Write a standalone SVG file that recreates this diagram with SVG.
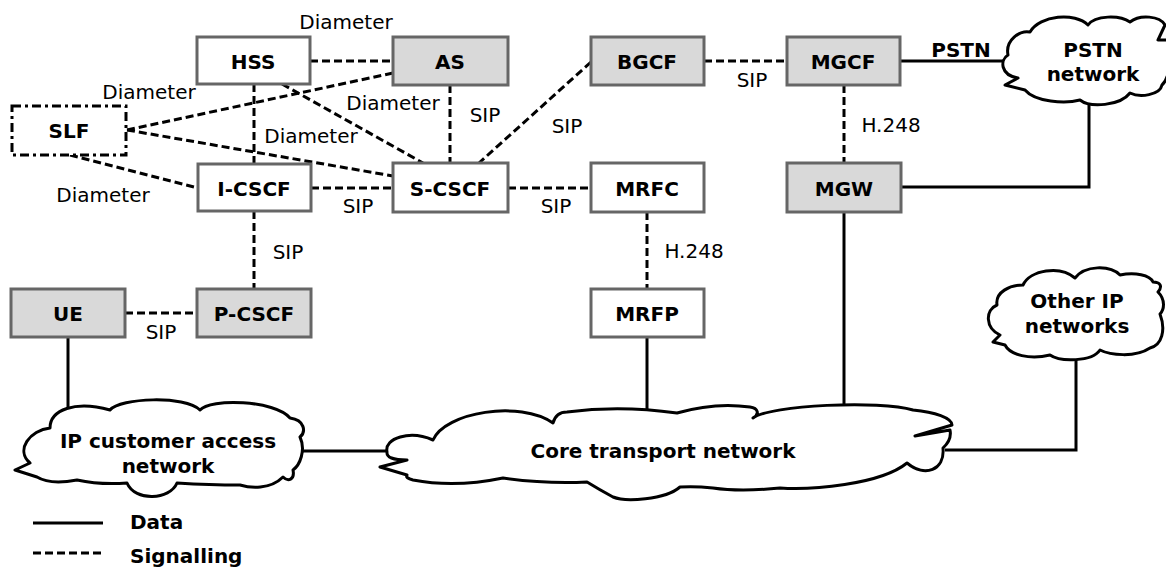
<svg xmlns="http://www.w3.org/2000/svg" width="1166" height="568" viewBox="0 0 1166 568">
<style>
.box{stroke:#666;stroke-width:3}
.w{fill:#fff}
.g{fill:#d9d9d9}
.nl{font-family:"DejaVu Sans",Verdana,sans-serif;font-size:20px;font-weight:bold;fill:#000;text-anchor:middle}
.lb{font-family:"DejaVu Sans",Verdana,sans-serif;font-size:20px;fill:#000;text-anchor:middle}
.sig{stroke:#000;stroke-width:3;stroke-dasharray:8 4;fill:none}
.dat{stroke:#000;stroke-width:3;fill:none}
.cloud{fill:#fff;stroke:#000;stroke-width:3;stroke-linejoin:round}
</style>
<rect width="1166" height="568" fill="#fff"/>
<g id="connectors">
<line class="sig" x1="310" y1="61" x2="393" y2="61"/>
<line class="sig" x1="254" y1="84" x2="254" y2="164"/>
<line class="sig" x1="282" y1="84" x2="423" y2="163"/>
<line class="sig" x1="127" y1="130" x2="393" y2="73"/>
<line class="sig" x1="127" y1="130" x2="393" y2="176"/>
<line class="sig" x1="70" y1="155" x2="198" y2="188"/>
<line class="sig" x1="450" y1="85" x2="450" y2="163"/>
<line class="sig" x1="591" y1="62" x2="479" y2="163"/>
<line class="sig" x1="704" y1="61" x2="787" y2="61"/>
<line class="sig" x1="311" y1="188" x2="393" y2="188"/>
<line class="sig" x1="508" y1="188" x2="591" y2="188"/>
<line class="sig" x1="844" y1="85" x2="844" y2="163"/>
<line class="sig" x1="647" y1="212" x2="647" y2="289"/>
<line class="sig" x1="254" y1="211" x2="254" y2="289"/>
<line class="sig" x1="125" y1="313" x2="197" y2="313"/>
<line class="dat" x1="900" y1="61" x2="1006" y2="61"/>
<polyline class="dat" points="901,187 1089,187 1089,100"/>
<line class="dat" x1="68" y1="337" x2="68" y2="412"/>
<line class="dat" x1="298" y1="451" x2="389" y2="451"/>
<line class="dat" x1="647" y1="337" x2="647" y2="410"/>
<line class="dat" x1="844" y1="212" x2="844" y2="410"/>
<polyline class="dat" points="945,450 1076,450 1076,356"/>
<line class="dat" x1="33" y1="523" x2="103" y2="523"/>
<line class="sig" x1="33" y1="553" x2="103" y2="553"/>
</g>
<g id="labels">
<text class="lb" x="346" y="29">Diameter</text>
<text class="lb" x="149" y="99">Diameter</text>
<text class="lb" x="311" y="143">Diameter</text>
<text class="lb" x="393" y="110">Diameter</text>
<text class="lb" x="103" y="202">Diameter</text>
<text class="lb" x="485" y="122">SIP</text>
<text class="lb" x="567" y="133">SIP</text>
<text class="lb" x="752" y="87">SIP</text>
<text class="lb" x="358" y="213">SIP</text>
<text class="lb" x="556" y="213">SIP</text>
<text class="lb" x="288" y="259">SIP</text>
<text class="lb" x="161" y="339">SIP</text>
<text class="lb" x="891" y="132">H.248</text>
<text class="lb" x="694" y="258">H.248</text>
<text class="nl" x="961" y="57">PSTN</text>
<text class="nl" x="130" y="529" style="text-anchor:start">Data</text>
<text class="nl" x="130" y="563" style="text-anchor:start">Signalling</text>
</g>
<g id="HSS"><rect class="box w" x="197" y="37" width="113" height="47"/><text class="nl" x="253" y="69">HSS</text></g>
<g id="AS"><rect class="box g" x="393" y="37" width="115" height="48"/><text class="nl" x="450" y="69">AS</text></g>
<g id="BGCF"><rect class="box g" x="591" y="37" width="113" height="48"/><text class="nl" x="647" y="69">BGCF</text></g>
<g id="MGCF"><rect class="box g" x="787" y="37" width="113" height="48"/><text class="nl" x="843" y="69">MGCF</text></g>
<g id="SLF"><rect x="12" y="106" width="114" height="49" fill="#fff" stroke="#000" stroke-width="3" stroke-dasharray="9 4 3 4"/><text class="nl" x="69" y="138">SLF</text></g>
<g id="I-CSCF"><rect class="box w" x="198" y="164" width="113" height="47"/><text class="nl" x="254" y="196">I-CSCF</text></g>
<g id="S-CSCF"><rect class="box w" x="393" y="163" width="115" height="49"/><text class="nl" x="450" y="196">S-CSCF</text></g>
<g id="MRFC"><rect class="box w" x="591" y="163" width="113" height="49"/><text class="nl" x="647" y="196">MRFC</text></g>
<g id="MGW"><rect class="box g" x="787" y="163" width="114" height="49"/><text class="nl" x="844" y="196">MGW</text></g>
<g id="UE"><rect class="box g" x="11" y="289" width="114" height="48"/><text class="nl" x="68" y="321">UE</text></g>
<g id="P-CSCF"><rect class="box g" x="197" y="289" width="114" height="48"/><text class="nl" x="254" y="321">P-CSCF</text></g>
<g id="MRFP"><rect class="box w" x="591" y="289" width="113" height="48"/><text class="nl" x="647" y="321">MRFP</text></g>
<g id="PSTN-network">
<path class="cloud" d="M1008,55 C1005,40 1020,30 1030,32 C1040,15 1075,12 1088,25 C1095,15 1120,15 1130,22 C1140,14 1160,16 1165,25 L1158,40 L1168,40 C1172,55 1170,78 1162,85 C1160,95 1140,98 1130,93 C1120,106 1090,108 1080,100 C1065,104 1035,102 1025,90 L1005,85 L1018,78 C1000,75 1000,60 1008,55 Z"/>
<text class="nl" x="1093" y="57">PSTN</text><text class="nl" x="1093" y="81">network</text>
</g>
<g id="Other-IP-networks">
<path class="cloud" d="M997,305 C995,292 1010,285 1023,285 C1030,270 1060,265 1075,278 C1085,265 1110,265 1120,275 C1135,272 1150,275 1153,282 C1160,282 1163,286 1158,292 C1166,300 1164,310 1160,314 C1166,330 1162,345 1150,348 C1135,358 1110,355 1100,350 C1092,362 1060,362 1050,355 C1030,360 1010,355 1005,345 L993,342 L1000,335 C985,328 985,310 997,305 Z"/>
<text class="nl" x="1077" y="308">Other IP</text><text class="nl" x="1077" y="333">networks</text>
</g>
<g id="IP-customer-access-network">
<path class="cloud" d="M50,428 C50,410 75,400 110,410 C120,398 185,395 200,410 C210,398 275,400 290,418 C305,420 306,432 300,437 C306,450 300,465 293,470 C295,480 288,482 283,477 C270,490 250,488 240,485 Q210,485 177,483 C170,500 135,502 127,483 Q100,485 77,480 Q50,485 37,477 L15,470 L30,463 C15,450 30,430 50,428 Z"/>
<text class="nl" x="168" y="448">IP customer access</text><text class="nl" x="168" y="473">network</text>
</g>
<g id="Core-transport-network">
<path class="cloud" d="M387,452 C384,438 410,430 433,440 C445,412 520,400 553,423 Q556,412 567,412 Q620,405 677,413 Q715,402 750,407 C758,408 760,414 753,418 C770,405 880,400 913,410 C935,412 952,418 952,425 L915,436 L950,430 Q952,440 943,448 C945,470 925,478 907,463 C880,485 810,490 780,488 Q740,492 713,488 Q695,486 680,487 C665,500 625,502 613,497 Q600,490 587,482 Q545,484 503,478 Q455,488 413,480 Q405,478 407,475 L380,467 L407,460 Q386,460 387,452 Z"/>
<text class="nl" x="663" y="458">Core transport network</text>
</g>
</svg>
